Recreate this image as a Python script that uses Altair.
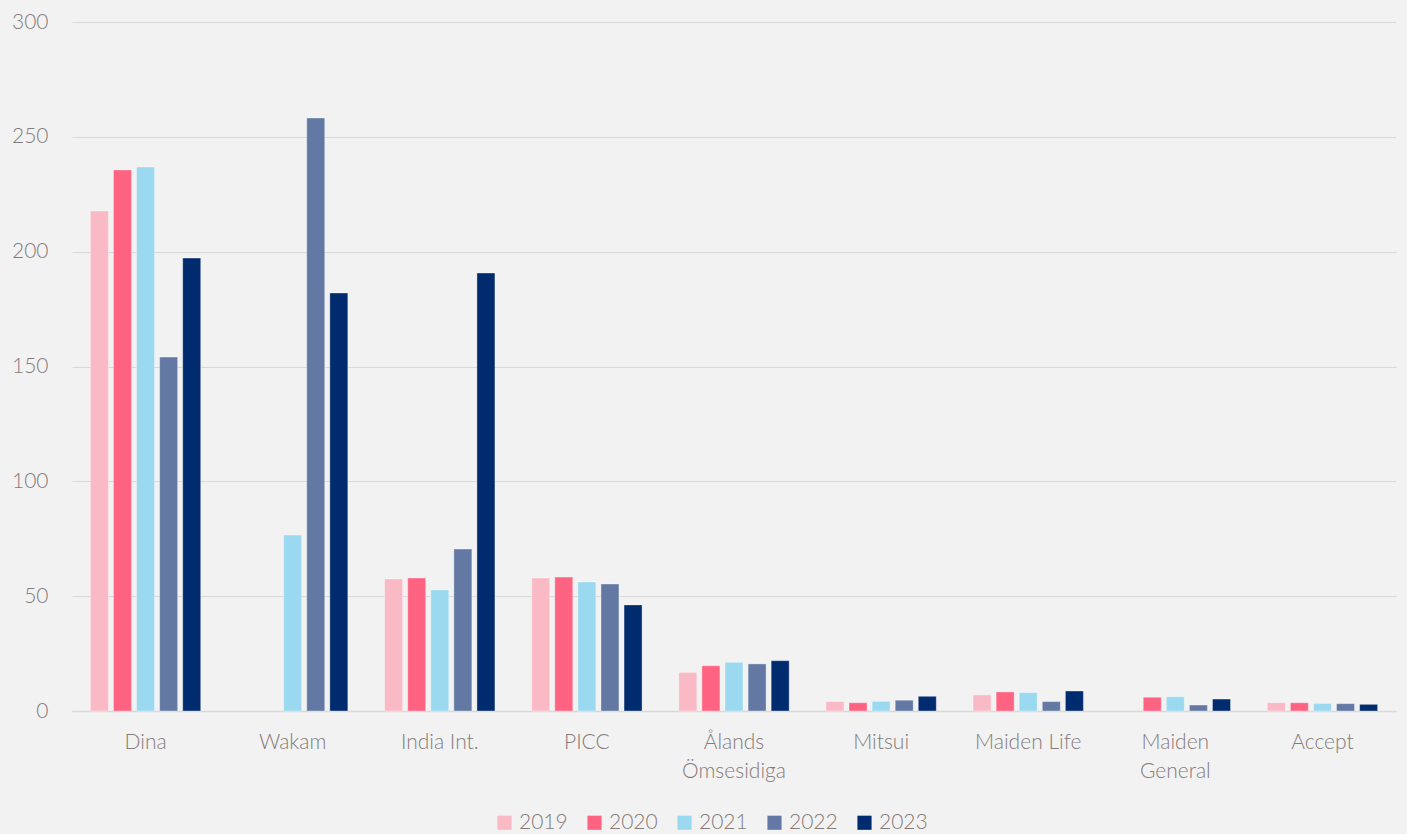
import altair as alt
import pandas as pd

companies = ["Dina", "Wakam", "India Int.", "PICC", "Ålands|Ömsesidiga", "Mitsui",
             "Maiden Life", "Maiden|General", "Accept"]
years = ["2019", "2020", "2021", "2022", "2023"]
colors = ["#F9B9C5", "#FF6382", "#9BD9F1", "#6379A3", "#002B6E"]

# None = no bar
values = {
    "2019": [217.7, None, 57.5, 57.9, 16.8, 4.1, 7.0, None, 3.6],
    "2020": [235.6, None, 57.9, 58.3, 19.7, 3.6, 8.3, 6.0, 3.6],
    "2021": [236.9, 76.6, 52.7, 56.2, 21.2, 4.2, 8.0, 6.2, 3.3],
    "2022": [154.1, 258.2, 70.5, 55.3, 20.5, 4.7, 4.1, 2.6, 3.2],
    "2023": [197.2, 182.0, 190.7, 46.2, 21.9, 6.4, 8.7, 5.2, 2.9],
}

rows = []
for y in years:
    for c, v in zip(companies, values[y]):
        if v is not None:
            rows.append({"company": c, "year": y, "value": v})
df = pd.DataFrame(rows)

font = "Lato"
txt = "#857B7B"

chart = alt.Chart(df).mark_bar(stroke="#ffffff", strokeOpacity=0.35, strokeWidth=1).encode(
    x=alt.X("company:N", sort=companies, title=None,
            scale=alt.Scale(paddingInner=0.25, paddingOuter=0.125),
            axis=alt.Axis(labelAngle=0, labelExpr="split(datum.label, '|')",
                          labelFontSize=21, labelColor=txt, labelFont=font,
                          labelFontWeight=300,
                          labelPadding=20, ticks=False, domainColor="#D9D9D9",
                          domainWidth=1.5, labelLineHeight=29)),
    xOffset=alt.XOffset("year:N", sort=years,
                        scale=alt.Scale(paddingInner=0.22, paddingOuter=0)),
    y=alt.Y("value:Q", title=None,
            scale=alt.Scale(domain=[0, 300], nice=False),
            axis=alt.Axis(values=[0, 50, 100, 150, 200, 250, 300], labelFontSize=21,
                          labelColor=txt, labelFont=font, labelFontWeight=300,
                          ticks=False, domain=False,
                          gridColor="#D9D9D9", labelPadding=24)),
    color=alt.Color("year:N", sort=years,
                    scale=alt.Scale(domain=years, range=colors),
                    legend=alt.Legend(title=None, orient="none", legendX=422, legendY=790,
                                      direction="horizontal", symbolType="square",
                                      symbolSize=200, symbolStrokeWidth=0,
                                      labelFontSize=21, labelColor=txt, labelFont=font,
                                      labelFontWeight=300,
                                      columnPadding=16, labelOffset=4)),
).properties(
    width=1324, height=689,
    background="#F2F2F2",
    autosize=alt.AutoSizeParams(type="none"),
    padding={"left": 72, "top": 22, "right": 11, "bottom": 123},
).configure_view(stroke=None)

chart.save("out.html", embed_options={"renderer": "svg", "actions": False})
